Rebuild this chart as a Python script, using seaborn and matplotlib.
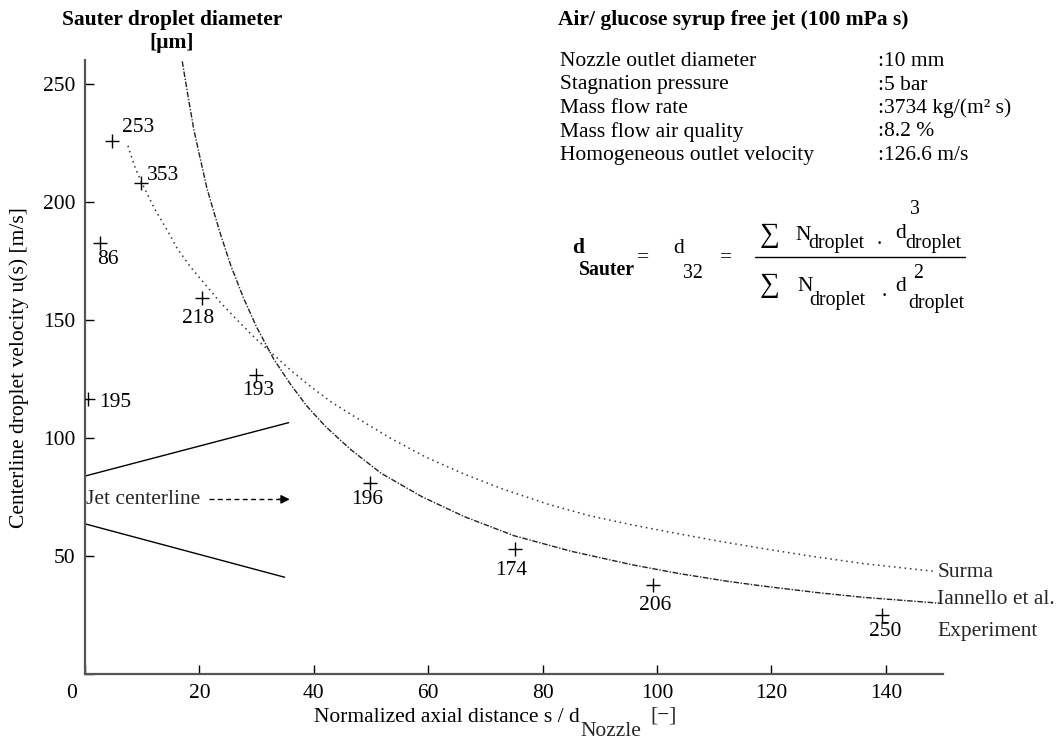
import numpy as np
import pandas as pd
import seaborn as sns
import matplotlib
matplotlib.use("Agg")
from matplotlib import pyplot as plt
from matplotlib.transforms import ScaledTranslation

# experiment (centerline droplet velocity) and Sauter diameters
exp_x = [0.5, 2.6, 4.7, 9.8, 20.4, 29.9, 49.8, 75.1, 99.3, 139.3]
exp_u = [116.4, 182.5, 225.8, 208.0, 159.5, 126.5, 80.8, 52.8, 37.7, 25.2]
exp_d32 = ["195", "86", "253", "353", "218", "193", "196", "174", "206", "250"]

# Surma model curve
surma_x = [7.5, 8.7, 9.96, 12.2, 14.6, 16.1, 18.4, 20.8, 23.6, 26.6, 29.8, 33.0, 36.2,
           39.5, 43.2, 47.1, 53.5, 59.5, 66.4, 73.0, 81.0, 88.0, 95.6, 103.8, 111.0,
           118.4, 127.0, 136.0, 148.5]
surma_u = [223.8, 215.0, 207.9, 197.0, 187.1, 180.4, 172.6, 165.7, 157.6, 150.0, 142.2,
           135.2, 128.2, 121.7, 115.0, 109.1, 99.8, 92.0, 84.6, 78.4, 71.9, 67.2, 63.2,
           59.4, 56.2, 53.2, 49.9, 46.8, 43.5]

# Iannello et al. model curve
ian_x = [17.0, 18.0, 19.0, 20.0, 21.3, 22.5, 23.7, 25.5, 27.7, 30.0, 33.0, 36.0, 38.8,
         42.0, 46.4, 51.8, 59.0, 66.4, 75.0, 85.0, 95.6, 104.0, 112.0, 118.4, 128.0,
         136.0, 149.4]
ian_u = [259.6, 245.0, 231.0, 220.0, 206.0, 196.0, 186.3, 173.0, 159.4, 147.0, 133.4,
         122.5, 113.5, 105.0, 95.2, 85.0, 75.0, 66.6, 58.6, 52.0, 46.3, 42.5, 39.4, 37.3,
         34.5, 32.5, 30.0]

# jet sketch
jet_up_x, jet_up_y = [0.2, 35.6], [84.0, 106.5]
jet_lo_x, jet_lo_y = [0.2, 34.9], [63.5, 41.0]
arrow_x, arrow_y = [21.6, 35.8], [74.0, 74.0]

xticks = [0, 20, 40, 60, 80, 100, 120, 140]
yticks = [0, 50, 100, 150, 200, 250]
ytick_labels = ["", "50", "100", "150", "200", "250"]

params = ["Nozzle outlet diameter", "Stagnation pressure", "Mass flow rate",
          "Mass flow air quality", "Homogeneous outlet velocity"]
param_vals = [":10 mm", ":5 bar", ":3734 kg/(m\u00b2 s)", ":8.2 %", ":126.6 m/s"]

# label offsets (pixels) for the diameter labels
lab_off = [(11, -3, "left"), (8, -16, "center"), (10, 14, "left"), (6, 8, "left"),
           (-4, -21, "center"), (2, -15, "center"), (-3, -16, "center"),
           (-3, -21, "center"), (2, -20, "center"), (3, -17, "center")]

sns.set_theme(style="ticks")
plt.rcParams["font.family"] = ["Liberation Serif", "DejaVu Serif"]

W, H = 1059, 743
FS = 15.5
SUB = 14.2
fig = plt.figure(figsize=(W / 100, H / 100), dpi=100)
ax = fig.add_axes([85 / W, 1 - 674 / H, 858 / W, 613.6 / H])


def ftext(px, py, s, **kw):
    kw.setdefault("va", "center")
    kw.setdefault("fontsize", FS)
    kw.setdefault("color", "black")
    return fig.text(px / W, 1 - py / H, s, **kw)


exp_df = pd.DataFrame({"x": exp_x, "u": exp_u})
sns.lineplot(x=surma_x, y=surma_u, ax=ax, sort=False, color="#333333",
             linestyle=(0, (1, 2.5)), linewidth=1.1)
sns.lineplot(x=ian_x, y=ian_u, ax=ax, sort=False, color="#222222",
             linestyle=(0, (4, 1.2, 1, 1.2)), linewidth=1.0)
sns.scatterplot(data=exp_df, x="x", y="u", ax=ax, marker="+", s=110,
                color="black", linewidth=1.0, zorder=5)

for xv, uv, lab, (dx, dy, ha) in zip(exp_x, exp_u, exp_d32, lab_off):
    ax.annotate(lab, (xv, uv), xytext=(dx, dy), textcoords="offset pixels",
                ha=ha, va="center", fontsize=FS, color="black")

ax.plot(jet_up_x, jet_up_y, color="black", lw=1.0)
ax.plot(jet_lo_x, jet_lo_y, color="black", lw=1.0)
ax.plot([arrow_x[0], arrow_x[1] - 1.5], arrow_y, color="black", lw=1.0,
        linestyle=(0, (3.5, 2.5)))
ax.annotate("", xy=(arrow_x[1], arrow_y[1]), xytext=(arrow_x[1] - 2.0, arrow_y[1]),
            arrowprops=dict(arrowstyle="-|>", color="black", lw=1.0,
                            mutation_scale=13, shrinkA=0, shrinkB=0))
ax.text(0.2, 74, "Jet centerline", ha="left", va="center", fontsize=FS)

ax.text(149, 43.2, "Surma", ha="left", va="center", fontsize=FS, clip_on=False)
ax.text(149, 31.4, "Iannello et al.", ha="left", va="center", fontsize=FS, clip_on=False)
ax.text(149, 17.8, "Experiment", ha="left", va="center", fontsize=FS, clip_on=False)

ax.set_xlim(0, 150)
ax.set_ylim(0, 260)
ax.set_xticks(xticks)
ax.set_xticklabels([str(t) for t in xticks])
ax.set_yticks(yticks)
ax.set_yticklabels(ytick_labels)
ax.tick_params(direction="in", length=6.5, width=1.0, color="black",
               labelsize=FS, labelcolor="black", pad=7)
for lab in ax.get_xticklabels()[:1]:
    lab.set_transform(lab.get_transform() + ScaledTranslation(-0.13, 0, fig.dpi_scale_trans))
sns.despine(ax=ax)
for side in ["left", "bottom"]:
    ax.spines[side].set_color("#555555")
    ax.spines[side].set_linewidth(1.6)
ax.set_xlabel("")
ax.set_ylabel("Centerline droplet velocity u(s) [m/s]", fontsize=FS, color="black",
              labelpad=10)

# x label built from pieces so the subscript keeps its size
r = fig.canvas.get_renderer()
t1 = ftext(314, 717, "Normalized axial distance s / d")
bb = t1.get_window_extent(r)
t2 = fig.text(bb.x1 / W + 1 / W, 1 - 731 / H, "Nozzle", va="center", fontsize=FS)
bb2 = t2.get_window_extent(r)
fig.text(bb2.x1 / W + 9 / W, 1 - 716 / H, "[\u2212]", va="center", fontsize=FS)

# headings
ftext(172, 20, "Sauter droplet diameter", ha="center", fontweight="bold")
ftext(172, 43, "[\u00b5m]", ha="center", fontweight="bold")
ftext(558, 20, "Air/ glucose syrup free jet (100 mPa s)", fontweight="bold")
for i, (p, v) in enumerate(zip(params, param_vals)):
    ftext(560, 61.5 + i * 23.5, p)
    ftext(878, 61.5 + i * 23.5, v)

# Sauter diameter definition
ftext(572, 248, "d", fontweight="bold")
ftext(579, 270, "Sauter", fontweight="bold", fontsize=SUB)
ftext(637, 258, "=")
ftext(673, 248, "d")
ftext(683, 273, "32", fontsize=SUB)
ftext(720, 258, "=")
fig.add_artist(plt.Line2D([755 / W, 965 / W], [1 - 256.7 / H, 1 - 256.7 / H],
                          color="black", lw=1.0))
ftext(760, 236, "\u2211", fontsize=20)
ftext(795, 235, "N")
ftext(808, 244, "droplet", fontsize=SUB)
ftext(877, 240, ".")
ftext(895, 233, "d")
ftext(910, 210, "3", fontsize=SUB)
ftext(905, 244, "droplet", fontsize=SUB)
ftext(760, 285, "\u2211", fontsize=20)
ftext(797, 287, "N")
ftext(809, 301, "droplet", fontsize=SUB)
ftext(882, 291, ".")
ftext(895, 287, "d")
ftext(913, 274, "2", fontsize=SUB)
ftext(908, 303, "droplet", fontsize=SUB)

fig.savefig("out.png", dpi=100)
